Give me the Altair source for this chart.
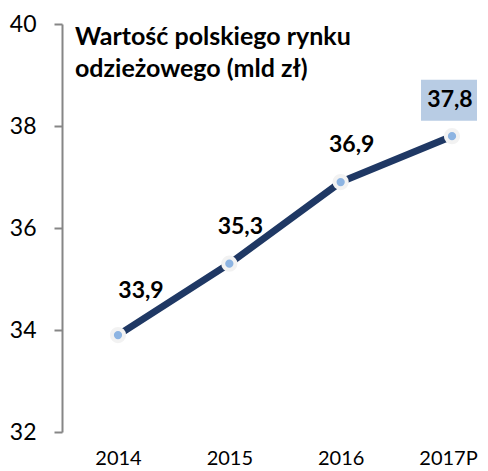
import altair as alt
import pandas as pd

years = ["2014", "2015", "2016", "2017P"]
values = [33.9, 35.3, 36.9, 37.8]
labels = ["33,9", "35,3", "36,9", "37,8"]
highlight = [False, False, False, True]
title_lines = ["Wartość polskiego rynku", "odzieżowego (mld zł)"]
y_ticks = [32, 34, 36, 38, 40]

df = pd.DataFrame({"year": years, "value": values, "label": labels, "hl": highlight})

FONT = "Lato"
AXIS_GRAY = "#868686"

x = alt.X("year:N", sort=years,
          scale=alt.Scale(type="point", range=[56, 390], padding=0),
          axis=alt.Axis(title=None, domain=False, ticks=False, labelAngle=0,
                        labelFontSize=20, labelFont=FONT, labelColor="black",
                        labelPadding=16,
                        labelOffset={"condition": {"test": "datum.value == '2017P'", "value": -4},
                                     "value": 0}))
y = alt.Y("value:Q",
          scale=alt.Scale(domain=[32, 40], nice=False, zero=False),
          axis=alt.Axis(title=None, values=y_ticks, grid=False,
                        domainColor=AXIS_GRAY, domainWidth=2,
                        tickColor=AXIS_GRAY, tickWidth=2, tickSize=8,
                        labelPadding=18, labelFontSize=23, labelFont=FONT,
                        labelColor="black"))

base = alt.Chart(df).encode(x=x, y=y)

line = base.mark_line(color="#1F3864", strokeWidth=7)
points = base.mark_circle(size=150, color="#8DB4E2", stroke="#F2F2F2",
                          strokeWidth=4, opacity=1)

box = base.transform_filter("datum.hl").mark_rect(
    width=56, height=41, color="#B8CCE4", xOffset=-3, yOffset=-36)

txt_kw = dict(font=FONT, fontSize=23, fontWeight="bold", color="black",
              baseline="middle")
lab_first = base.transform_filter("datum.year == '2014'").mark_text(
    dx=23, dy=-44, **txt_kw).encode(text="label:N")
lab_mid = base.transform_filter("datum.year == '2015' || datum.year == '2016'").mark_text(
    dx=11, dy=-37, **txt_kw).encode(text="label:N")
lab_last = base.transform_filter("datum.hl").mark_text(
    dx=-2, dy=-36, **txt_kw).encode(text="label:N")

title = alt.Chart(pd.DataFrame({"a": [0]})).mark_text(
    text=title_lines, align="left", baseline="alphabetic", lineHeight=32,
    font=FONT, fontSize=25, fontWeight="bold", color="black"
).encode(x=alt.value(13), y=alt.value(21))

chart = alt.layer(line, points, box, lab_first, lab_mid, lab_last, title).properties(
    width=418, height=408,
    padding={"left": 54, "top": 16, "right": 0, "bottom": 39},
    autosize=alt.AutoSizeParams(type="none"),
).configure_view(stroke=None)

chart.save("out.html", embed_options={"renderer": "svg", "actions": False})
